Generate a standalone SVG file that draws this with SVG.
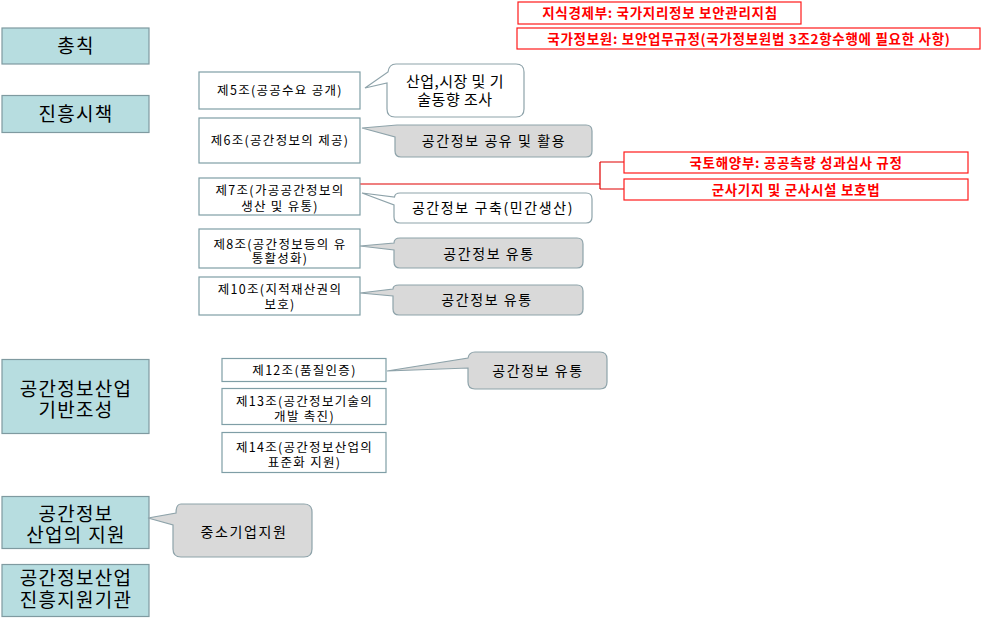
<svg xmlns="http://www.w3.org/2000/svg" width="982" height="618" viewBox="0 0 982 618">
<style>
text{font-family:"Noto Sans CJK KR","Noto Sans",sans-serif;fill:#000;text-anchor:middle}
.teal{fill:#b7dde0;stroke:#7f9aa0;stroke-width:1.2}
.box{fill:#fff;stroke:#7f9ea6;stroke-width:1.2}
.cw{fill:#fff;stroke:#8ea3aa;stroke-width:1.2}
.cg{fill:#d9d9d9;stroke:#8ea3aa;stroke-width:1.2}
.red{fill:#fff;stroke:#ff1a1a;stroke-width:1.2}
.tt{font-size:19px;letter-spacing:1.3px}
.bt{font-size:12.5px;letter-spacing:1.3px}
.ct{font-size:14px;letter-spacing:1.6px}
.rt{font-size:13.5px;font-weight:bold;fill:#ff0000;letter-spacing:0.7px}
.line{fill:none;stroke:#e00000;stroke-width:1.2}
</style>

<g id="connectors">
<path class="line" d="M360,184 H600 M600,162 V189 M600,162 H624 M600,189 H624"/>
</g>

<g id="teal-chongchik"><rect class="teal" x="2" y="28" width="147" height="36"/><text class="tt" x="76" y="53">총칙</text></g>
<g id="teal-jinheung"><rect class="teal" x="2" y="95.5" width="147" height="37"/><text class="tt" x="76" y="121">진흥시책</text></g>
<g id="teal-gibanjoseong"><rect class="teal" x="2" y="359.5" width="147" height="74"/><text class="tt" x="76" y="396">공간정보산업</text><text class="tt" x="76" y="417">기반조성</text></g>
<g id="teal-jiwon"><rect class="teal" x="2" y="496.5" width="147" height="52"/><text class="tt" x="76" y="521">공간정보</text><text class="tt" x="76" y="542">산업의 지원</text></g>
<g id="teal-gigwan"><rect class="teal" x="2" y="564.5" width="147" height="52"/><text class="tt" x="76" y="585">공간정보산업</text><text class="tt" x="76" y="607">진흥지원기관</text></g>

<g id="art5"><rect class="box" x="199" y="72" width="161" height="37"/><text class="bt" x="280" y="95">제5조(공공수요  공개)</text></g>
<g id="art6"><rect class="box" x="199" y="118" width="161" height="45"/><text class="bt" x="280" y="145">제6조(공간정보의 제공)</text></g>
<g id="art7"><rect class="box" x="199" y="178" width="161" height="37"/><text class="bt" x="280" y="195">제7조(가공공간정보의</text><text class="bt" x="280" y="211">생산 및 유통)</text></g>
<g id="art8"><rect class="box" x="199" y="229" width="161" height="39"/><text class="bt" x="280" y="249">제8조(공간정보등의  유</text><text class="bt" x="280" y="263">통활성화)</text></g>
<g id="art10"><rect class="box" x="199" y="277" width="161" height="38"/><text class="bt" x="280" y="294">제10조(지적재산권의</text><text class="bt" x="280" y="309">보호)</text></g>
<g id="art12"><rect class="box" x="222" y="358.5" width="164" height="23"/><text class="bt" x="304.5" y="375">제12조(품질인증)</text></g>
<g id="art13"><rect class="box" x="222" y="388.5" width="164" height="36"/><text class="bt" x="304.5" y="406">제13조(공간정보기술의</text><text class="bt" x="304.5" y="421">개발 촉진)</text></g>
<g id="art14"><rect class="box" x="222" y="432.5" width="164" height="40"/><text class="bt" x="304.5" y="452">제14조(공간정보산업의</text><text class="bt" x="304.5" y="467">표준화 지원)</text></g>

<g id="callout-survey"><path class="cw" d="M396,64 H516 Q524,64 524,72 V109 Q524,117 516,117 H395 Q387,117 387,109 V83 L365,88 L388,72 Q389,64 396,64 Z"/><text class="ct" x="455" y="87" style="font-size:15px;letter-spacing:0.5px">산업,시장 및 기</text><text class="ct" x="455" y="105" style="font-size:15px;letter-spacing:0.5px">술동향 조사</text></g>
<g id="callout-share"><path class="cg" d="M397,125 H586 Q592,125 592,131 V151 Q592,157 586,157 H401 Q395,157 395,151 V137 L362,128 Z"/><text class="ct" x="494" y="146">공간정보 공유 및 활용</text></g>
<g id="callout-build"><path class="cw" d="M400,193 H586 Q592,193 592,199 V217 Q592,223 586,223 H400 Q394,223 394,217 V205 L362,193 L394.5,197 Q395,193 400,193 Z"/><text class="ct" x="493" y="213">공간정보 구축(민간생산)</text></g>
<g id="callout-dist1"><path class="cg" d="M400,238 H577 Q583,238 583,244 V262 Q583,268 577,268 H400 Q394,268 394,262 V250 L360,246 L394,243 Q394,238 400,238 Z"/><text class="ct" x="489" y="259">공간정보 유통</text></g>
<g id="callout-dist2"><path class="cg" d="M399,285 H577 Q583,285 583,291 V309 Q583,315 577,315 H399 Q393,315 393,309 V296 L360,293 L393,289 Q393,285 399,285 Z"/><text class="ct" x="487" y="305">공간정보 유통</text></g>
<g id="callout-dist3"><path class="cg" d="M475,352 H600 Q607,352 607,359 V382 Q607,389 600,389 H475 Q468,389 468,382 V368 L387,371 L468,358 Q469,352 475,352 Z"/><text class="ct" x="538" y="376">공간정보 유통</text></g>
<g id="callout-sme"><path class="cg" d="M181,504 H304 Q312,504 312,512 V549 Q312,557 304,557 H181 Q173,557 173,549 V525 L148,518 L176,513 Q176,504 181,504 Z"/><text class="ct" x="244" y="537">중소기업지원</text></g>

<g id="red-mke"><rect class="red" x="518" y="2" width="283" height="22"/><text class="rt" x="660" y="18">지식경제부: 국가지리정보 보안관리지침</text></g>
<g id="red-nis"><rect class="red" x="517" y="28" width="463" height="21"/><text class="rt" x="749" y="43.5">국가정보원: 보안업무규정(국가정보원법 3조2항수행에 필요한 사항)</text></g>
<g id="red-mltm"><rect class="red" x="624" y="152" width="344" height="21"/><text class="rt" x="796" y="167.5">국토해양부: 공공측량 성과심사 규정</text></g>
<g id="red-military"><rect class="red" x="624" y="179" width="344" height="21"/><text class="rt" x="796" y="194.5">군사기지 및 군사시설 보호법</text></g>
</svg>
